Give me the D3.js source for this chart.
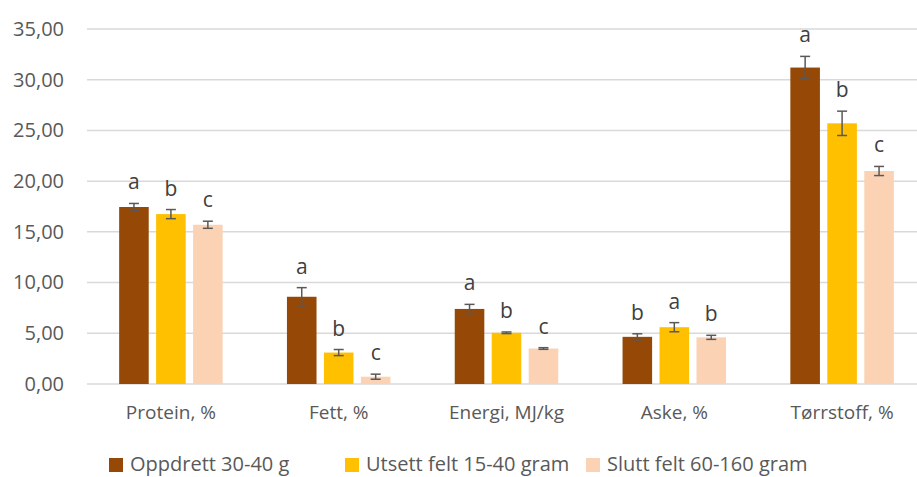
<!DOCTYPE html>
<html><head><meta charset="utf-8">
<script src="https://cdn.jsdelivr.net/npm/d3@7"></script>
<style>
html,body{margin:0;padding:0;background:#fff;}
svg text{font-family:"Open Sans","Noto Sans",sans-serif;}
</style>
</head><body>
<svg id="chart" width="917" height="477"></svg>
<script>
const categories = ["Protein, %", "Fett, %", "Energi, MJ/kg", "Aske, %", "Tørrstoff, %"];
const seriesNames = ["Oppdrett 30-40 g", "Utsett felt 15-40 gram", "Slutt felt 60-160 gram"];
const seriesColors = ["#964806", "#FFC000", "#FBD3B4"];
const oppdrett = [17.45, 8.6, 7.4, 4.65, 31.2];
const utsett   = [16.75, 3.1, 5.05, 5.6, 25.7];
const slutt    = [15.7, 0.72, 3.5, 4.6, 21.0];
const errOppdrett = [0.35, 0.9, 0.45, 0.3, 1.1];
const errUtsett   = [0.45, 0.3, 0.08, 0.45, 1.2];
const errSlutt    = [0.35, 0.25, 0.08, 0.2, 0.45];
const letOppdrett = ["a", "a", "a", "b", "a"];
const letUtsett   = ["b", "b", "b", "a", "b"];
const letSlutt    = ["c", "c", "c", "b", "c"];
const yTicks = [0, 5, 10, 15, 20, 25, 30, 35];

const values = [oppdrett, utsett, slutt];
const errs = [errOppdrett, errUtsett, errSlutt];
const lets = [letOppdrett, letUtsett, letSlutt];

const svg = d3.select("#chart");
const y = d3.scaleLinear().domain([0, 35]).range([384, 29]);
const x0 = d3.scaleBand().domain(categories).range([87, 926]).padding(0);
const x1 = d3.scaleBand().domain(seriesNames).range([-51.75, 51.75]).paddingInner(0.2);
const fmt = v => d3.format(".2f")(v).replace(".", ",");

// gridlines
svg.append("g").selectAll("line").data(yTicks.filter(t => t > 0)).join("line")
  .attr("x1", 87).attr("x2", 917)
  .attr("y1", d => y(d)).attr("y2", d => y(d))
  .attr("stroke", "#d9d9d9").attr("stroke-width", 1.5);

// y axis labels
const yAxis = d3.axisLeft(y).tickValues(yTicks).tickFormat(fmt).tickSize(0).tickPadding(0);
const ya = svg.append("g").attr("transform", "translate(64,0)").call(yAxis);
ya.select(".domain").remove();
ya.selectAll("text").attr("fill", "#595959").style("font-size", "20px")
  .style("font-family", "'Open Sans',sans-serif");

// x axis
const xa = svg.append("g").attr("transform", "translate(0,384)")
  .call(d3.axisBottom(x0).tickSize(0).tickPadding(0));
xa.select(".domain").attr("stroke", "#d9d9d9").attr("stroke-width", 1.5).attr("d", "M87,0H917");
xa.selectAll("text").attr("fill", "#595959").attr("y", 35).attr("dy", null)
  .style("font-size", "19px").style("font-family", "'Open Sans',sans-serif");

// bars
const data = [];
seriesNames.forEach((s, si) => {
  categories.forEach((c, ci) => {
    data.push({s, si, c, v: values[si][ci], e: errs[si][ci], l: lets[si][ci]});
  });
});
const cx = d => x0(d.c) + x0.bandwidth() / 2 + x1(d.s);
svg.append("g").selectAll("rect").data(data).join("rect")
  .attr("x", cx).attr("width", x1.bandwidth())
  .attr("y", d => y(d.v)).attr("height", d => y(0) - y(d.v))
  .attr("fill", d => seriesColors[d.si]);

// error bars
const eb = svg.append("g").attr("stroke", "#595959").attr("stroke-width", 1.5);
data.forEach(d => {
  const mx = cx(d) + x1.bandwidth() / 2;
  eb.append("line").attr("x1", mx).attr("x2", mx).attr("y1", y(d.v + d.e)).attr("y2", y(d.v - d.e));
  eb.append("line").attr("x1", mx - 5).attr("x2", mx + 5).attr("y1", y(d.v + d.e)).attr("y2", y(d.v + d.e));
  eb.append("line").attr("x1", mx - 5).attr("x2", mx + 5).attr("y1", y(d.v - d.e)).attr("y2", y(d.v - d.e));
});

// letters
svg.append("g").selectAll("text").data(data).join("text")
  .attr("x", d => cx(d) + x1.bandwidth() / 2)
  .attr("y", d => y(d.v + d.e) - 14)
  .attr("text-anchor", "middle")
  .attr("fill", "#404040").style("font-size", "21px")
  .text(d => d.l);

// legend
const legX = [109, 345, 586];
const lg = svg.append("g");
seriesNames.forEach((s, i) => {
  lg.append("rect").attr("x", legX[i]).attr("y", 458).attr("width", 14).attr("height", 14).attr("fill", seriesColors[i]);
  lg.append("text").attr("x", legX[i] + 21).attr("y", 471).attr("fill", "#595959")
    .style("font-size", "20px").text(s);
});
</script>
</body></html>
